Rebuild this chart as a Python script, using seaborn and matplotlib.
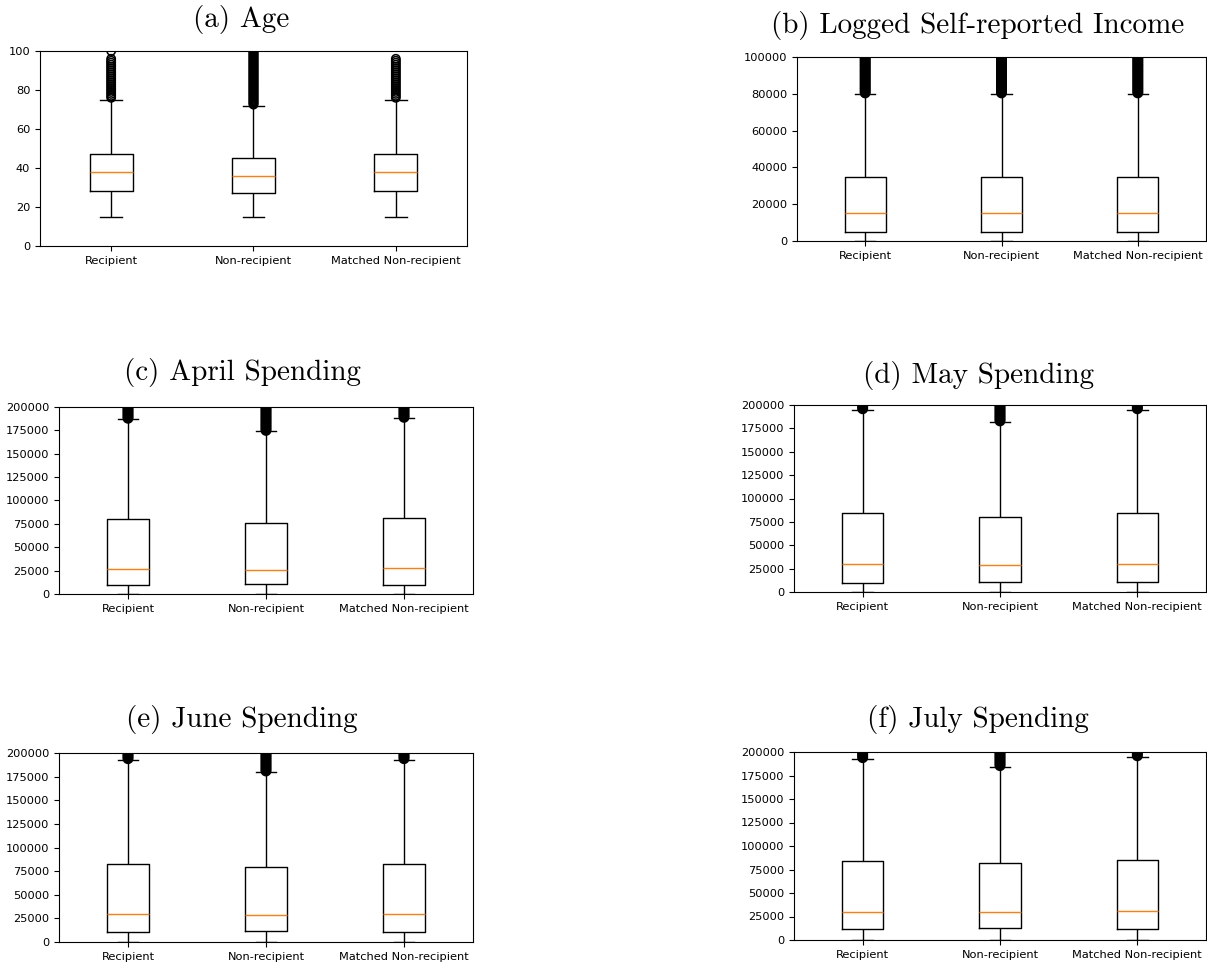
import matplotlib
matplotlib.use("Agg")
import matplotlib.pyplot as plt
import numpy as np
import pandas as pd
import seaborn as sns

groups = ["Recipient", "Non-recipient", "Matched Non-recipient"]

# five-number summaries: whisker low, q1, median, q3, whisker high
age_lo = [15, 15, 15]
age_q1 = [28, 27, 28]
age_med = [38, 36, 38]
age_q3 = [47, 45, 47]
age_hi = [75, 72, 75]
age_fliers = [
    [76, 77, 78, 79, 80, 81, 82, 83, 84, 85, 86, 87, 88, 89, 90, 91, 92, 93, 94, 95, 96, 100],
    [72.5, 73, 73.5, 74, 74.5, 75, 75.5, 76, 76.5, 77, 77.5, 78, 78.5, 79, 79.5, 80, 80.5,
     81, 81.5, 82, 82.5, 83, 83.5, 84, 84.5, 85, 85.5, 86, 86.5, 87, 87.5, 88, 88.5, 89,
     89.5, 90, 90.5, 91, 91.5, 92, 92.5, 93, 93.5, 94, 94.5, 95, 95.5, 96, 96.5, 97, 97.5,
     98, 98.5, 99, 99.5, 100, 100.5, 101],
    [76, 77, 78, 79, 80, 81, 82, 83, 84, 85, 86, 87, 88, 89, 90, 91, 92, 93, 94, 95, 96],
]

inc_lo = [0, 0, 0]
inc_q1 = [5000, 5000, 5000]
inc_med = [15000, 15000, 15000]
inc_q3 = [35000, 35000, 35000]
inc_hi = [80000, 80000, 80000]
inc_col = [80500, 81500, 82500, 83500, 84500, 85500, 86500, 87500, 88500, 89500, 90500,
           91500, 92500, 93500, 94500, 95500, 96500, 97500, 98500, 99500, 100500]
inc_fliers = [inc_col, inc_col, inc_col]

apr_lo = [0, 0, 0]
apr_q1 = [10000, 10500, 10000]
apr_med = [27000, 26000, 28000]
apr_q3 = [80000, 76000, 81000]
apr_hi = [187000, 174000, 188000]
apr_fliers = [
    [188000, 190000, 192000, 194000, 196000, 198000, 200000, 202000],
    [175000, 177000, 179000, 181000, 183000, 185000, 187000, 189000, 191000, 193000,
     195000, 197000, 199000, 201000],
    [189000, 191000, 193000, 195000, 197000, 199000, 201000, 203000],
]

may_lo = [0, 0, 0]
may_q1 = [10000, 11000, 11000]
may_med = [29500, 28500, 29500]
may_q3 = [84000, 80000, 84000]
may_hi = [195000, 182000, 195000]
may_fliers = [
    [196000, 198000, 200000, 202000],
    [183000, 185000, 187000, 189000, 191000, 193000, 195000, 197000, 199000, 201000],
    [196000, 198000, 200000, 202000],
]

jun_lo = [0, 0, 0]
jun_q1 = [10500, 11500, 11000]
jun_med = [29500, 28500, 29500]
jun_q3 = [83000, 79000, 83000]
jun_hi = [193000, 180000, 193000]
jun_fliers = [
    [194000, 196000, 198000, 200000, 202000],
    [181000, 183000, 185000, 187000, 189000, 191000, 193000, 195000, 197000, 199000, 201000],
    [194000, 196000, 198000, 200000, 202000],
]

jul_lo = [0, 0, 0]
jul_q1 = [11500, 13000, 12000]
jul_med = [30000, 30000, 31000]
jul_q3 = [84000, 81500, 85000]
jul_hi = [193000, 184500, 195000]
jul_fliers = [
    [194000, 196000, 198000, 200000, 202000],
    [185500, 187500, 189500, 191500, 193500, 195500, 197500, 199500, 201500],
    [196000, 198000, 200000, 202000],
]

titles = ["(a) Age", "(b) Logged Self-reported Income", "(c) April Spending",
          "(d) May Spending", "(e) June Spending", "(f) July Spending"]


def box_frame(lo, q1, med, q3, hi):
    rows = []
    for g, vals in zip(groups, zip(lo, q1, med, q3, hi)):
        rows += [(g, v) for v in vals]
    return pd.DataFrame(rows, columns=["group", "value"])


def flier_frame(fliers):
    rows = []
    for g, vals in zip(groups, fliers):
        rows += [(g, v) for v in vals]
    return pd.DataFrame(rows, columns=["group", "value"])


panels = [
    (box_frame(age_lo, age_q1, age_med, age_q3, age_hi), flier_frame(age_fliers), 100, 1.1),
    (box_frame(inc_lo, inc_q1, inc_med, inc_q3, inc_hi), flier_frame(inc_fliers), 100000, 1.9),
    (box_frame(apr_lo, apr_q1, apr_med, apr_q3, apr_hi), flier_frame(apr_fliers), 200000, 1.9),
    (box_frame(may_lo, may_q1, may_med, may_q3, may_hi), flier_frame(may_fliers), 200000, 1.9),
    (box_frame(jun_lo, jun_q1, jun_med, jun_q3, jun_hi), flier_frame(jun_fliers), 200000, 1.9),
    (box_frame(jul_lo, jul_q1, jul_med, jul_q3, jul_hi), flier_frame(jul_fliers), 200000, 1.9),
]

# axes boxes in pixels (left, top, right, bottom) and title centres
W, H = 1207, 966
rects = [(40, 51, 467, 246), (797, 57, 1206, 241),
         (59, 407, 473, 594), (794, 405, 1206, 592),
         (59, 753, 473, 942), (794, 752, 1206, 940)]
title_pos = [(241, 20), (978, 26), (242, 372), (979, 375), (242, 719), (978, 720)]

fig = plt.figure(figsize=(W / 100, H / 100), dpi=100)

for (boxes, fl, top, flw), (l, t, r, b), title, (tx, ty) in zip(panels, rects, titles, title_pos):
    ax = fig.add_axes([l / W, 1 - b / H, (r - l) / W, (b - t) / H])
    sns.boxplot(data=boxes, x="group", y="value", order=groups, ax=ax,
                whis=(0, 100), width=0.3, fill=False, color="black",
                linecolor="black", linewidth=1, showfliers=False,
                medianprops={"color": "#ff7f0e"})
    sns.stripplot(data=fl, x="group", y="value", order=groups, ax=ax,
                  jitter=False, marker="o", size=6, color="black",
                  facecolor="none", edgecolor="black", linewidth=flw)
    ax.set_ylim(0, top)
    ax.set_xlim(-0.5, 2.5)
    ax.set_xlabel("")
    ax.set_ylabel("")
    ax.tick_params(labelsize=8.2)
    for s in ax.spines.values():
        s.set_linewidth(0.8)
        s.set_color("black")
    fig.text(tx / W, 1 - ty / H, title, family="cmr10", fontsize=21,
             ha="center", va="center")

fig.savefig("out.png", dpi=100)
